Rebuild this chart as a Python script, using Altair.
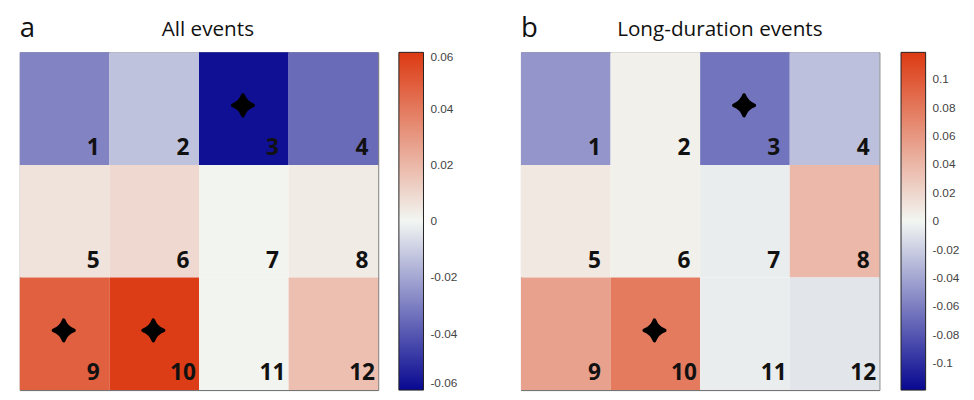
import altair as alt
import pandas as pd

# ---- data ----
cols = [0, 1, 2, 3] * 3
rows = [0] * 4 + [1] * 4 + [2] * 4
labels = [str(i) for i in range(1, 13)]

vals_all = [-0.029, -0.013, -0.058, -0.035,
            0.006, 0.0095, 0.0005, 0.0035,
            0.048, 0.059, 0.0005, 0.0175]
stars_all = [3, 9, 10]

vals_long = [-0.048, 0.004, -0.065, -0.027,
             0.009, 0.004, -0.0045, 0.039,
             0.054, 0.078, -0.0045, -0.008]
stars_long = [3, 10]

ticks_all = [-0.06, -0.04, -0.02, 0, 0.02, 0.04, 0.06]
ticks_long = [-0.1, -0.08, -0.06, -0.04, -0.02, 0, 0.02, 0.04, 0.06, 0.08, 0.1]
max_all = 0.06
max_long = 0.119

BLUE, MID, RED = "#080891", "#f2f6f2", "#dc3a12"
STAR = ("M0,-1 Q0.27,-0.27 1,0 Q0.27,0.27 0,1 "
        "Q-0.27,0.27 -1,0 Q-0.27,-0.27 0,-1 Z")

W, H = 364, 343


def panel(vals, stars, vmax, ticks, letter, title, title_x, legend_offset):
    df = pd.DataFrame({
        "col": cols, "row": rows, "label": labels, "value": vals,
        "star": [int(l) in stars for l in labels],
    })
    base = alt.Chart(df)
    xs = alt.Scale(paddingInner=0, paddingOuter=0)
    ys = alt.Scale(paddingInner=0, paddingOuter=0)
    rect = base.mark_rect().encode(
        x=alt.X("col:O", axis=None, scale=xs),
        y=alt.Y("row:O", axis=None, scale=ys),
        color=alt.Color(
            "value:Q",
            scale=alt.Scale(domain=[-vmax, 0, vmax], range=[BLUE, MID, RED],
                            interpolate="rgb"),
            legend=alt.Legend(
                title=None, values=ticks, direction="vertical",
                gradientLength=H, gradientThickness=25,
                gradientStrokeColor="#222", gradientStrokeWidth=1,
                labelFont="Liberation Sans", labelFontSize=12,
                labelColor="#444", offset=legend_offset, labelOffset=7,
                labelExpr="datum.value == 0 ? '0' : '' + datum.value",
            ),
        ),
    )
    txt = base.mark_text(
        font="Open Sans", fontWeight="bold", fontSize=23, color="#111",
        align="center", baseline="alphabetic", dy=-10,
    ).encode(
        x=alt.X("col:O", bandPosition=0.82, scale=xs),
        y=alt.Y("row:O", bandPosition=1, scale=ys),
        text="label:N",
    )
    st = base.transform_filter("datum.star").mark_point(
        shape=STAR, filled=True, color="black", size=440,
        stroke="black", strokeWidth=3.5, strokeJoin="round", opacity=1,
    ).encode(
        x=alt.X("col:O", bandPosition=0.49, scale=xs),
        y=alt.Y("row:O", bandPosition=0.47, scale=ys),
    )
    hdr = pd.DataFrame({"t": [letter], "h": [title]})
    let = alt.Chart(hdr).mark_text(
        font="Open Sans", fontSize=28, align="left", baseline="alphabetic",
        color="#111",
    ).encode(x=alt.value(0), y=alt.value(-16), text="t:N")
    ttl = alt.Chart(hdr).mark_text(
        font="Open Sans", fontSize=21, align="center", baseline="alphabetic",
        color="#111",
    ).encode(x=alt.value(title_x), y=alt.value(-17), text="h:N")
    return alt.layer(rect, txt, st, let, ttl).properties(width=W, height=H)


pa = panel(vals_all, stars_all, max_all, ticks_all, "a", "All events", 191, 21)
pb = panel(vals_long, stars_long, max_long, ticks_long, "b",
           "Long-duration events", 202, 22)

chart = alt.hconcat(pa, pb, spacing=62).resolve_scale(
    color="independent"
).configure_view(
    stroke="#666", strokeWidth=1
).configure_legend(
    gradientVerticalMaxLength=400, gradientVerticalMinLength=100,
).properties(
    padding={"left": 11, "top": 3, "right": 5, "bottom": 5},
    background="white",
)

chart.save("out.html", embed_options={"renderer": "svg", "actions": False})
